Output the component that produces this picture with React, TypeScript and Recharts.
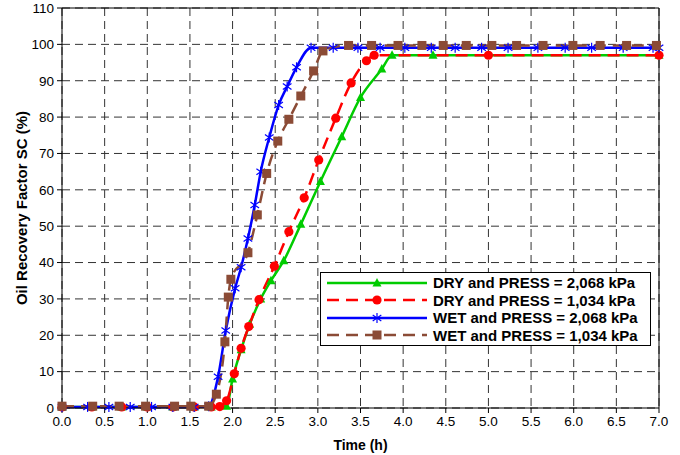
import { LineChart, Line, XAxis, YAxis, CartesianGrid, ReferenceLine, Legend } from 'recharts';

const timeTicks = [0, 0.5, 1, 1.5, 2, 2.5, 3, 3.5, 4, 4.5, 5, 5.5, 6, 6.5, 7];
const rfTicks = [0, 10, 20, 30, 40, 50, 60, 70, 80, 90, 100, 110];

// DRY and PRESS = 2,068 kPa
const dryHighTime = [0, 0.35, 0.7, 1.0, 1.3, 1.55, 1.75, 1.93, 2.0, 2.1, 2.2, 2.33, 2.45, 2.6, 2.8, 3.03, 3.28, 3.5, 3.75, 3.87, 4.35, 7.0];
const dryHighRF = [0.3, 0.3, 0.3, 0.3, 0.3, 0.3, 0.3, 0.5, 8, 16, 23, 30, 35, 40.5, 50.5, 62.3, 74.6, 85.4, 93.2, 97, 97, 97];

// DRY and PRESS = 1,034 kPa
const dryLowTime = [0, 0.35, 0.7, 1.0, 1.3, 1.55, 1.75, 1.85, 1.93, 2.02, 2.1, 2.19, 2.31, 2.49, 2.66, 2.84, 3.01, 3.21, 3.39, 3.57, 3.66, 5.0, 7.0];
const dryLowRF = [0.3, 0.3, 0.3, 0.3, 0.3, 0.3, 0.3, 0.4, 2, 9.4, 16.4, 22.4, 29.8, 39, 48.5, 57.8, 68.2, 79.7, 89.4, 95.5, 97, 97, 97];

// WET and PRESS = 2,068 kPa
const wetHighTime = [0, 0.3, 0.55, 0.8, 1.05, 1.3, 1.55, 1.72, 1.83, 1.92, 2.03, 2.1, 2.18, 2.26, 2.33, 2.43, 2.54, 2.64, 2.75, 2.92, 3.18, 3.47, 3.73, 4.02, 4.33, 4.61, 4.92, 5.23, 5.58, 5.9, 6.21, 6.58, 6.93, 7.0];
const wetHighRF = [0.3, 0.3, 0.3, 0.3, 0.3, 0.3, 0.3, 0.5, 8.6, 21.3, 32.9, 38.7, 46.6, 55.8, 65, 74.4, 83.3, 88.4, 93.7, 99.1, 99.1, 99.1, 99.1, 99.1, 99.1, 99.1, 99.1, 99.1, 99.1, 99.1, 99.1, 99.1, 99.1, 99.1];

// WET and PRESS = 1,034 kPa
const wetLowTime = [0, 0.36, 0.67, 0.98, 1.32, 1.51, 1.72, 1.81, 1.91, 1.95, 1.98, 2.18, 2.29, 2.4, 2.53, 2.66, 2.8, 2.95, 3.06, 3.36, 3.63, 3.94, 4.22, 4.47, 4.74, 5.04, 5.33, 5.64, 5.99, 6.31, 6.62, 6.97];
const wetLowRF = [0.5, 0.5, 0.5, 0.5, 0.5, 0.5, 0.5, 3.8, 18.2, 30.5, 35.4, 42.7, 53.1, 64.5, 73.4, 79.4, 85.8, 92.7, 98.2, 99.7, 99.7, 99.7, 99.7, 99.7, 99.7, 99.7, 99.7, 99.7, 99.7, 99.7, 99.7, 99.7];

const toPoints = (t: number[], v: number[]) => t.map((x, i) => ({ t: x, rf: v[i] }));

const FONT = '"Liberation Sans", Arial, sans-serif';

const Marker = ({ kind, cx, cy, color }: any) => {
  if (cx == null || cy == null) return null;
  if (kind === 'triangle')
    return <polygon points={`${cx},${cy - 5} ${cx - 4.5},${cy + 3.5} ${cx + 4.5},${cy + 3.5}`} fill={color} />;
  if (kind === 'circle') return <circle cx={cx} cy={cy} r={4.6} fill={color} />;
  if (kind === 'star')
    return (
      <g stroke={color} strokeWidth={1.2}>
        <line x1={cx} y1={cy - 5} x2={cx} y2={cy + 5} />
        <line x1={cx - 4.3} y1={cy - 3} x2={cx + 4.3} y2={cy + 3} />
        <line x1={cx - 4.3} y1={cy + 3} x2={cx + 4.3} y2={cy - 3} />
      </g>
    );
  return <rect x={cx - 4.5} y={cy - 4.5} width={9} height={9} fill={color} />;
};

const series = [
  { key: 'dryHigh', name: 'DRY and PRESS = 2,068 kPa', color: '#00cc00', dash: undefined, kind: 'triangle', data: toPoints(dryHighTime, dryHighRF) },
  { key: 'dryLow', name: 'DRY and PRESS = 1,034 kPa', color: '#ff0000', dash: '12 7', kind: 'circle', data: toPoints(dryLowTime, dryLowRF) },
  { key: 'wetHigh', name: 'WET and PRESS = 2,068 kPa', color: '#0000ff', dash: undefined, kind: 'star', data: toPoints(wetHighTime, wetHighRF) },
  { key: 'wetLow', name: 'WET and PRESS = 1,034 kPa', color: '#8b4b36', dash: '12 7', kind: 'square', data: toPoints(wetLowTime, wetLowRF) },
];

const LegendBox = () => (
  <div style={{ background: '#fff', border: '1px solid #000', padding: '1px 12px 1px 4px', fontFamily: FONT, fontWeight: 'bold', fontSize: 15, whiteSpace: 'nowrap' }}>
    {series.map((s) => (
      <div key={s.key} style={{ display: 'flex', alignItems: 'center', height: 17.5 }}>
        <svg width={104} height={14} style={{ marginRight: 4 }}>
          <line x1={2} y1={7} x2={102} y2={7} stroke={s.color} strokeWidth={2.5} strokeDasharray={s.dash} />
          <Marker kind={s.kind} cx={52} cy={7} color={s.color} />
        </svg>
        <span>{s.name}</span>
      </div>
    ))}
  </div>
);

export default function App() {
  return (
    <div style={{ position: 'absolute', left: 0, top: 0, width: 680, height: 455, background: '#fff' }}>
      <LineChart width={680} height={455} margin={{ top: 8, right: 21, left: 0, bottom: 0 }}>
        <CartesianGrid stroke="#333" strokeDasharray="8 5" strokeWidth={1} />
        <XAxis
          dataKey="t"
          type="number"
          domain={[0, 7]}
          ticks={timeTicks}
          tickFormatter={(v: number) => v.toFixed(1)}
          allowDuplicatedCategory={false}
          height={47}
          stroke="#000"
          tickSize={5}
          tickMargin={3}
          tick={{ fill: '#000', fontSize: 13.5, fontFamily: FONT }}
          label={{ value: 'Time (h)', position: 'insideBottom', offset: 5, fill: '#000', fontSize: 14, fontWeight: 'bold', fontFamily: FONT }}
        />
        <YAxis
          dataKey="rf"
          type="number"
          domain={[0, 110]}
          ticks={rfTicks}
          width={62}
          stroke="#000"
          tickSize={5}
          tickMargin={3}
          tick={{ fill: '#000', fontSize: 13.5, fontFamily: FONT }}
          label={{ value: 'Oil Recovery Factor SC (%)', angle: -90, position: 'insideLeft', offset: 22, fill: '#000', fontSize: 15, fontWeight: 'bold', fontFamily: FONT, style: { textAnchor: 'middle' } }}
        />
        <ReferenceLine y={110} stroke="#000" strokeWidth={1} />
        <ReferenceLine x={7} stroke="#000" strokeWidth={1} />
        {series.map((s) => (
          <Line
            key={s.key}
            data={s.data}
            dataKey="rf"
            name={s.name}
            type="monotone"
            stroke={s.color}
            strokeWidth={2.5}
            strokeDasharray={s.dash}
            isAnimationActive={false}
            dot={(p: any) => <Marker key={`${s.key}-${p.index}`} kind={s.kind} cx={p.cx} cy={p.cy} color={s.color} />}
            activeDot={false}
          />
        ))}
        <Legend
          layout="vertical"
          align="center"
          verticalAlign="middle"
          content={() => <LegendBox />}
          wrapperStyle={{ left: 320, top: 272, width: 'auto' }}
        />
      </LineChart>
    </div>
  );
}
